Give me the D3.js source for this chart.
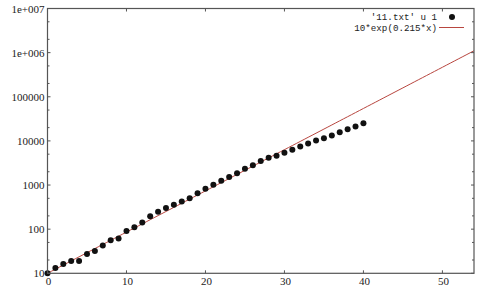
<!DOCTYPE html>
<html><head><meta charset="utf-8">
<script src="https://cdn.jsdelivr.net/npm/d3@7"></script>
<style>body{margin:0;background:#fff}svg{display:block}</style>
</head><body>
<script>
const xs = d3.range(0, 41);
const ys = [10, 13.2, 16.3, 19, 19, 27.5, 32, 42.6, 56, 61.5, 91, 111, 141, 197, 247, 300,
  356, 426, 499, 648, 824, 1016, 1253, 1517, 1842, 2346, 2800, 3510, 4170, 4635, 5420,
  6320, 7420, 8700, 10160, 11500, 13200, 15700, 18400, 21100, 25200];
const xTicks = [0, 10, 20, 30, 40, 50];
const yTicks = [10, 100, 1000, 10000, 100000, 1e6, 1e7];
const yTickLabels = ["10", "100", "1000", "10000", "100000", "1e+006", "1e+007"];
const yMinor = [20, 50, 200, 500, 2000, 5000, 20000, 50000, 200000, 500000, 2e6, 5e6];
const legendLabels = ["'11.txt' u 1", "10*exp(0.215*x)"];
const fitA = 10, fitB = 0.215;

const W = 480, H = 292;
const L = 47.5, R = 474, T = 8.5, B = 273.3;
const svg = d3.select("body").append("svg").attr("width", W).attr("height", H);
const x = d3.scaleLinear().domain([0, 54]).range([L, R]);
const y = d3.scaleLog().domain([10, 1e7]).range([B, T]);
const axisCol = "#555";
const redCol = "#b8463f";

// fit line
const fitX = d3.range(0, 54.01, 0.5);
svg.append("path").datum(fitX)
  .attr("fill", "none").attr("stroke", redCol).attr("stroke-width", 1)
  .attr("d", d3.line().x(d => x(d)).y(d => y(fitA * Math.exp(fitB * d))));

// points
svg.selectAll("circle.pt").data(xs).enter().append("circle")
  .attr("cx", d => x(d)).attr("cy", (d, i) => y(ys[i])).attr("r", 3)
  .attr("fill", "#111");

// frame
const g = svg.append("g");
g.append("rect").attr("x", L).attr("y", T).attr("width", R - L).attr("height", B - T)
  .attr("fill", "none").attr("stroke", axisCol).attr("stroke-width", 1.2);

// x ticks (bottom and top)
xTicks.forEach(v => {
  g.append("line").attr("x1", x(v)).attr("x2", x(v)).attr("y1", B).attr("y2", B - 3).attr("stroke", axisCol);
  g.append("line").attr("x1", x(v)).attr("x2", x(v)).attr("y1", T).attr("y2", T + 3).attr("stroke", axisCol);
  g.append("text").attr("x", x(v) + 1).attr("y", B + 12).attr("text-anchor", "middle")
    .attr("font-family", "Liberation Serif, serif").attr("font-size", 11).attr("fill", "#222").text(v);
});
// y ticks
yTicks.forEach((v, i) => {
  g.append("line").attr("x1", L).attr("x2", L + 3).attr("y1", y(v)).attr("y2", y(v)).attr("stroke", axisCol);
  g.append("line").attr("x1", R).attr("x2", R - 3).attr("y1", y(v)).attr("y2", y(v)).attr("stroke", axisCol);
  g.append("text").attr("x", L - 3).attr("y", y(v) + 4).attr("text-anchor", "end")
    .attr("font-family", "Liberation Serif, serif").attr("font-size", 11).attr("fill", "#222").text(yTickLabels[i]);
});
yMinor.forEach(v => {
  g.append("line").attr("x1", L).attr("x2", L + 2).attr("y1", y(v)).attr("y2", y(v)).attr("stroke", axisCol);
  g.append("line").attr("x1", R).attr("x2", R - 2).attr("y1", y(v)).attr("y2", y(v)).attr("stroke", axisCol);
});

// legend
const lf = "Liberation Mono, monospace";
g.append("text").attr("x", 437).attr("y", 20).attr("text-anchor", "end")
  .attr("font-family", lf).attr("font-size", 9.2).attr("fill", "#222").text(legendLabels[0]);
g.append("circle").attr("cx", 452).attr("cy", 17).attr("r", 3).attr("fill", "#111");
g.append("text").attr("x", 437).attr("y", 31).attr("text-anchor", "end")
  .attr("font-family", lf).attr("font-size", 9.2).attr("fill", "#222").text(legendLabels[1]);
g.append("line").attr("x1", 439).attr("x2", 464).attr("y1", 27.5).attr("y2", 27.5)
  .attr("stroke", redCol).attr("stroke-width", 1);
</script>
</body></html>
